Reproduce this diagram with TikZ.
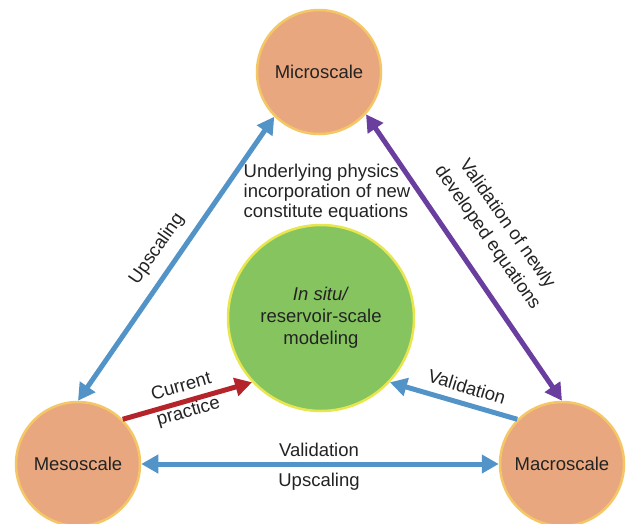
\documentclass[tikz,border=0pt]{standalone}
\usepackage{fontspec}
\setmainfont{Liberation Sans}
\usetikzlibrary{arrows.meta}
\definecolor{saumon}{RGB}{233,167,127}
\definecolor{jaune}{RGB}{245,198,102}
\definecolor{vert}{RGB}{134,196,96}
\definecolor{jaunevert}{RGB}{232,230,78}
\definecolor{bleu}{RGB}{83,148,200}
\definecolor{violet}{RGB}{106,62,158}
\definecolor{rouge}{RGB}{181,36,43}
\definecolor{texte}{RGB}{35,35,35}

\begin{document}
\begin{tikzpicture}[x=1pt,y=-1pt,
  echelle/.style={circle,draw=jaune,line width=2.5pt,fill=saumon,minimum size=124pt,inner sep=0pt,text=texte,font=\fontsize{18.5}{21}\selectfont},
  legende/.style={text=texte,inner sep=0pt,font=\fontsize{18.5}{20}\selectfont},
  fleche/.style={line width=5pt,-{Triangle[length=17pt,width=18pt]}},
  bidir/.style={line width=5pt,{Triangle[length=17pt,width=18pt]}-{Triangle[length=17pt,width=18pt]}}]
\useasboundingbox (0,0) rectangle (627,523);

\node [echelle] (micro) at (319,72) {Microscale};
\node [echelle] (meso) at (78,464) {Mesoscale};
\node [echelle] (macro) at (562,464) {Macroscale};
\node [echelle, fill=vert, draw=jaunevert, minimum size=186pt, align=center, font=\fontsize{18.5}{22}\selectfont] (insitu) at (321,318) {\textit{In situ/}\\reservoir-scale\\modeling};

\draw [bidir, bleu] (meso.north) -- (micro.225);
\draw [bidir, violet] (micro.-42) -- (macro.north);
\draw [fleche, rouge] (meso.45) -- (insitu.223);
\draw [fleche, bleu] (macro.135) -- (insitu.-43);
\draw [bidir, bleu] (meso.east) -- (macro.west);

\node [legende, rotate=55] (lupscal) at (157,249) {Upscaling};
\node [legende, rotate=-55, align=center, font=\fontsize{18.5}{24}\selectfont] (lvalnew) at (497,231) {Validation of newly\\developed equations};
\node [legende, align=left] (lphys) at (327,193) {Underlying physics\\incorporation of new\\constitute equations};
\node [legende, rotate=16, align=center, font=\fontsize{18.5}{26}\selectfont] (lcurrent) at (185,400) {Current\\practice};
\node [legende, rotate=-17] (lvalid) at (467,387) {Validation};
\node [legende] (lvalbas) at (319,450) {Validation};
\node [legende] (lupbas) at (319,482) {Upscaling};

\end{tikzpicture}
\end{document}
